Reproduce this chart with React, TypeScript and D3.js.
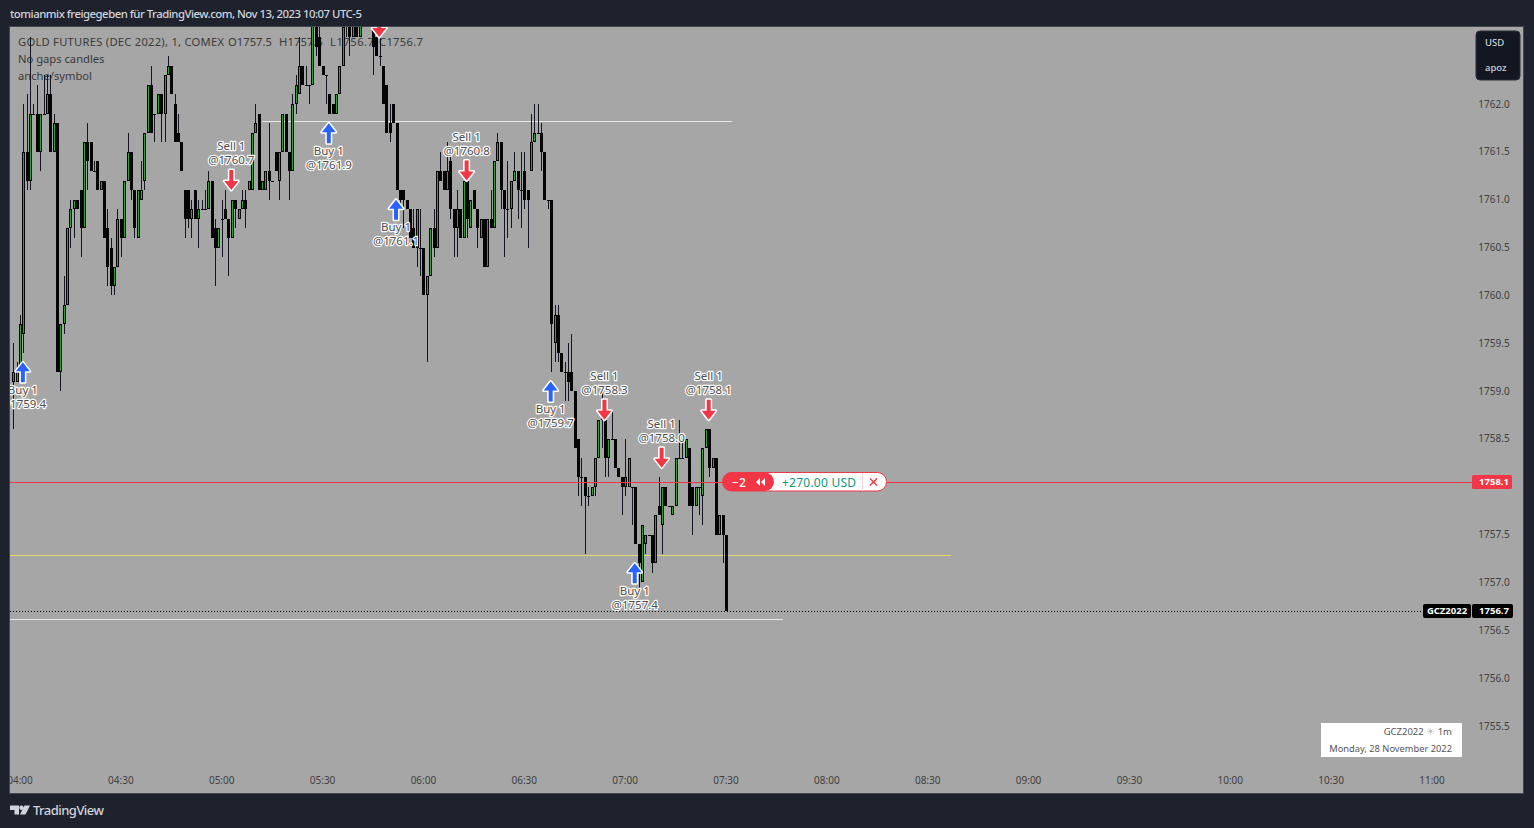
import React from "react";
import * as d3 from "d3";

// prices are written relative to 1700
const BASE = 1700;
const firstMinute = -2; // minutes after 04:00 of the first candle
const opens = [
  59.1,59.1,59.2,59.6,61.5,61.2,61.9,61.9,61.5,61.9,
  61.9,62.1,61.5,61.8,59.2,59.7,59.9,60.7,60.9,61.0,
  61.1,60.7,61.6,61.6,61.3,61.4,61.1,61.2,60.7,60.5,
  60.1,60.3,60.8,60.6,61.2,61.5,61.1,60.6,61.0,61.2,
  61.7,62.2,61.9,61.9,62.1,61.9,62.3,62.4,62.0,61.7,
  61.6,61.1,61.1,60.8,61.1,60.8,60.9,60.9,60.9,61.2,
  60.7,60.5,60.8,60.9,60.8,60.6,61.0,60.8,60.9,61.0,
  61.1,61.1,61.7,61.9,61.1,61.1,61.3,61.2,61.5,61.2,
  61.5,61.9,61.5,61.3,62.0,62.1,62.4,62.2,62.2,62.2,
  63.0,62.7,62.4,62.3,62.1,62.0,61.9,62.1,62.4,62.8,
  62.8,62.7,62.9,62.7,63.0,62.9,63.0,62.8,62.7,62.5,
  62.4,62.2,61.8,62.0,61.8,61.1,61.1,61.0,60.9,60.7,
  60.5,60.5,60.5,60.0,60.2,60.7,60.5,61.3,61.3,61.1,
  61.4,60.9,60.7,60.9,60.6,61.2,60.7,61.1,60.9,60.6,
  60.8,60.3,60.8,60.7,61.4,61.6,61.1,60.9,60.9,61.2,
  61.3,61.1,61.3,61.1,61.3,61.6,61.7,61.7,61.5,61.0,
  61.0,59.5,59.8,59.4,59.2,59.2,59.2,59.0,58.5,58.1,
  58.1,57.9,57.9,58.0,58.3,58.8,58.7,58.3,58.5,58.5,
  58.2,58.1,58.0,58.0,58.0,58.0,57.4,57.0,57.4,57.5,
  57.5,57.2,57.8,57.6,58.0,57.8,57.7,57.8,58.3,58.3,
  58.3,58.4,58.0,57.8,58.0,57.9,58.4,58.6,58.2,58.3,
  57.5,57.7,57.5,
];
const closes = [
  59.2,59.2,59.7,61.5,61.2,61.9,61.9,61.5,61.9,61.9,
  62.1,61.5,61.8,59.2,59.7,59.9,60.7,60.9,61.0,60.9,
  60.7,61.6,61.4,61.3,61.3,61.1,61.2,60.6,60.3,60.1,
  60.3,60.8,60.6,61.2,61.5,61.1,60.7,61.1,61.1,61.7,
  62.2,61.7,61.9,62.1,61.9,62.3,62.4,62.1,61.6,61.6,
  61.3,60.8,60.8,60.9,60.8,60.9,60.9,60.9,61.2,60.6,
  60.5,60.7,60.8,60.8,60.6,61.0,60.9,60.9,61.0,60.9,
  61.2,61.7,61.8,61.1,61.2,61.3,61.2,61.2,61.3,61.5,
  61.9,61.5,61.3,62.0,62.2,62.4,62.2,62.2,62.2,63.0,
  62.6,62.4,62.3,62.3,61.9,61.9,62.1,62.4,62.8,62.9,
  62.7,62.9,62.7,63.0,62.9,63.0,62.9,62.6,62.5,62.5,
  62.0,61.7,61.7,61.8,61.1,61.0,61.0,60.9,60.6,60.5,
  60.9,60.5,60.0,60.2,60.7,60.5,61.3,61.2,61.1,61.3,
  60.9,60.7,60.9,60.6,61.2,60.8,61.0,60.9,60.7,60.8,
  60.3,60.8,60.7,61.4,61.6,61.1,60.9,60.9,61.2,61.3,
  61.1,61.1,61.0,61.0,61.6,61.7,61.7,61.5,61.0,61.0,
  59.7,59.8,59.4,59.2,59.2,59.1,59.0,58.4,58.1,58.1,
  57.9,57.9,58.0,58.3,58.7,58.7,58.3,58.5,58.5,58.2,
  58.1,58.0,58.1,58.3,58.0,57.4,57.2,57.6,57.5,57.5,
  57.2,57.7,57.7,58.0,57.8,57.8,57.8,58.3,58.3,58.3,
  58.5,57.8,57.8,58.0,58.0,58.4,58.6,58.2,58.3,57.5,
  57.7,57.5,56.7,
];
const highs = [
  59.5,59.3,59.8,62.0,62.1,62.7,62.0,62.2,61.9,62.3,
  62.3,62.3,61.9,61.8,59.7,60.2,60.7,61.0,61.0,61.0,
  61.1,61.6,61.8,61.6,61.4,61.4,61.2,61.2,60.9,60.6,
  60.3,60.9,60.8,61.2,61.7,61.5,61.1,61.1,61.4,61.7,
  62.2,62.4,61.9,62.1,62.1,62.3,62.5,62.4,62.1,61.9,
  61.6,61.1,61.1,61.0,61.1,61.0,61.0,61.1,61.3,61.2,
  60.8,60.7,61.0,61.1,60.8,61.0,61.0,60.9,61.1,61.1,
  61.2,61.7,62.0,61.9,61.2,61.3,61.8,61.2,61.5,61.5,
  61.9,61.9,61.5,62.1,62.3,62.7,62.4,62.4,62.2,63.0,
  63.2,62.9,62.4,62.3,62.1,62.0,62.1,62.4,63.0,63.1,
  63.0,63.2,63.0,63.1,63.2,63.2,63.2,63.0,62.7,62.7,
  62.4,62.2,62.0,62.0,61.8,61.1,61.1,61.0,60.9,60.9,
  60.9,60.9,60.5,60.2,60.7,60.9,61.3,61.5,61.3,61.6,
  61.5,60.9,61.1,60.9,61.2,61.2,61.0,61.1,60.9,60.8,
  60.8,60.8,61.1,61.4,61.7,61.6,61.1,61.4,61.2,61.5,
  61.3,61.5,61.5,61.1,61.9,62.0,62.0,61.8,61.5,61.0,
  61.0,59.9,59.9,59.4,59.3,59.5,59.6,59.0,58.5,58.3,
  58.1,58.0,58.0,58.3,58.7,59.0,58.7,58.5,58.8,58.5,
  58.2,58.1,58.5,58.3,58.0,58.0,57.4,57.6,57.5,57.5,
  57.5,57.7,58.1,58.0,58.0,57.8,57.8,58.3,58.7,58.5,
  58.5,58.4,58.0,58.0,58.0,58.4,58.6,58.6,58.3,58.3,
  57.7,57.7,57.5,
];
const lows = [
  58.6,59.1,59.1,59.4,61.1,61.1,61.9,61.5,61.3,61.9,
  61.9,61.5,61.5,59.2,59.0,59.6,59.9,60.5,60.6,60.9,
  60.4,60.7,61.1,61.3,61.3,61.1,61.1,60.6,60.1,60.0,
  60.0,60.3,60.4,60.6,61.2,61.0,60.6,60.6,61.0,61.1,
  61.7,61.7,61.6,61.9,61.6,61.6,62.3,62.1,61.6,61.6,
  61.3,60.6,60.7,60.6,60.8,60.5,60.9,60.9,60.9,60.6,
  60.1,60.5,60.4,60.8,60.2,60.6,60.7,60.8,60.9,60.7,
  61.1,61.1,61.7,61.1,61.1,61.1,61.0,61.2,61.3,61.0,
  61.5,61.5,61.0,61.3,61.9,62.1,62.2,62.2,62.0,62.2,
  62.5,62.4,62.3,62.0,61.9,61.9,61.9,62.1,62.4,62.7,
  62.5,62.7,62.7,62.7,62.9,62.9,62.9,62.3,62.5,62.4,
  62.0,61.7,61.6,61.8,61.1,60.9,60.7,60.9,60.6,60.5,
  60.3,60.2,60.0,59.3,60.2,60.4,60.5,61.2,61.1,61.1,
  60.8,60.4,60.4,60.6,60.6,60.6,60.7,60.9,60.5,60.6,
  60.3,60.3,60.7,60.7,61.4,60.9,60.4,60.6,60.7,61.2,
  60.8,60.7,60.9,60.5,61.3,61.6,61.7,61.3,61.0,60.9,
  59.2,59.3,59.3,59.2,58.9,58.9,59.0,58.4,57.9,57.8,
  57.3,57.8,57.9,57.9,58.3,58.4,58.1,58.1,58.5,58.2,
  58.1,57.7,57.9,58.0,57.6,57.4,56.9,57.0,57.3,57.5,
  57.1,57.2,57.7,57.3,57.8,57.8,57.7,57.8,58.3,58.3,
  58.3,57.8,57.5,57.8,57.7,57.6,58.4,58.1,58.2,57.5,
  57.5,57.2,56.7,
];

// 1758.0 sits behind the red position label in the reference
const priceTicks = [1762.0,1761.5,1761.0,1760.5,1760.0,1759.5,1759.0,1758.5,1757.5,1757.0,1756.5,1756.0,1755.5];
const timeTicks = ["04:00","04:30","05:00","05:30","06:00","06:30","07:00","07:30","08:00","08:30","09:00","09:30","10:00","10:30","11:00"];

const markerSides = ["buy","sell","buy","sell","buy","sell","buy","buy","sell","sell","sell"];
const markerMinutes = [1,63,92,107,112,133,158,183,174,191,205];
const markerTips = [1759.3,1761.1,1761.8,1762.7,1761.0,1761.2,1759.1,1757.2,1758.7,1758.2,1758.7];
const markerPrices = ["1759.4","1760.7","1761.9","","1761.1","1760.8","1759.7","1757.4","1758.3","1758.0","1758.1"];

const levelPrices = [1761.82,1757.29,1756.62];
const levelFrom = [72,-10,-10];
const levelTo = [211.8,276.9,227];
const levelColors = ["#e8e8e8","#e6d768","#e8e8e8"];

const legendTexts = ["O1757.5","H1757.5","L1756.7","C1756.7"];
const legendStarts = [228,279,330,379];

const positionPrice = 1758.05;
const lastPrice = 1756.7;

const sans = "'Noto Sans', sans-serif";
const W = 1534, H = 828;
const plot = { l: 10, t: 27, r: 1523, b: 793 };

const x = d3.scaleLinear().domain([0, 420]).range([20, 1432]);
const y = d3.scaleLinear().domain([1762, 1755.5]).range([104, 726]);

const GREEN = "#27a52f";
const candleIdx = d3.range(closes.length);

function Candles() {
  return (
    <g shapeRendering="crispEdges">
      {candleIdx.map((i) => {
        const m = firstMinute + i;
        const cx = Math.round(x(m));
        const o = opens[i] + BASE, c = closes[i] + BASE;
        const top = Math.round(y(Math.max(o, c)));
        const bot = Math.round(y(Math.min(o, c)));
        const hY = Math.round(y(highs[i] + BASE));
        const lY = Math.round(y(lows[i] + BASE));
        const up = c > o;
        const bh = Math.max(bot - top, 1);
        return (
          <g key={i}>
            <rect x={cx} y={hY} width={1} height={Math.max(lY - hY, 1)} fill="#131722" />
            <rect x={cx - 1} y={top} width={3} height={bh} fill="#050505" />
            {up && bh > 2 && <rect x={cx} y={top + 1} width={1} height={bh - 2} fill={GREEN} />}
          </g>
        );
      })}
    </g>
  );
}

function Marker({ i }: { i: number }) {
  const cx = x(markerMinutes[i]) - 0.5;
  const tip = y(markerTips[i]);
  const buy = markerSides[i] === "buy";
  const dir = buy ? 1 : -1;
  const pts: [number, number][] = [
    [0, 0], [7, 9], [2, 9], [2, 20], [-2, 20], [-2, 9], [-7, 9],
  ];
  const d = (d3.line()(pts.map(([a, b]) => [cx + a, tip + dir * b] as [number, number])) as string) + "Z";
  const color = buy ? "#2962ff" : "#f23645";
  const t1 = buy ? tip + 27.5 : tip - 44;
  const t2 = t1 + 14;
  const label = { fontFamily: sans, fontSize: 11.5, textAnchor: "middle", fill: "#4c4c4c", stroke: "#ffffff", strokeWidth: 2.4, strokeLinejoin: "round", paintOrder: "stroke" } as React.CSSProperties;
  return (
    <g>
      <path d={d} fill={color} stroke="#ffffff" strokeWidth={3} strokeLinejoin="round" paintOrder="stroke" />
      {markerPrices[i] && (
        <g>
          <text x={cx} y={t1} dy="0.35em" style={label}>{buy ? "Buy 1" : "Sell 1"}</text>
          <text x={cx} y={t2} dy="0.35em" style={label}>{"@" + markerPrices[i]}</text>
        </g>
      )}
    </g>
  );
}

function Pill() {
  const py = Math.round(y(positionPrice));
  return (
    <g>
      <rect x={722.5} y={py - 9.5} width={164} height={18.5} rx={9} fill="#ffffff" stroke="#f23645" />
      <path d={`M765 ${py - 9.5} H731.5 a9 9 0 0 0 0 18.5 H765 a9 9.25 0 0 0 0 -18.5Z`} fill="#f23645" />
      <text x={739} y={py + 0.5} dy="0.36em" textAnchor="middle" fill="#fff" fontFamily={sans} fontSize={12} fontWeight={500}>{"\u22122"}</text>
      <path d={`M760 ${py - 4} L756 ${py} L760 ${py + 4}Z M765 ${py - 4} L761 ${py} L765 ${py + 4}Z`} fill="#fff" />
      <text x={819} y={py + 0.5} dy="0.36em" textAnchor="middle" fill="#089981" fontFamily={sans} fontSize={12} textLength={74}>+270.00 USD</text>
      <rect x={862} y={py - 9} width={1} height={18} fill="#f5d5d8" />
      <path d={`M870 ${py - 3.5} L877 ${py + 3.5} M877 ${py - 3.5} L870 ${py + 3.5}`} stroke="#f23645" strokeWidth={1.4} />
    </g>
  );
}

export default function App() {
  const py = Math.round(y(positionPrice));
  const ly = Math.round(y(lastPrice));
  return (
    <svg width={W} height={H} viewBox={`0 0 ${W} ${H}`} style={{ position: "fixed", left: 0, top: 0, display: "block" }}>
      <defs>
        <clipPath id="plotClip">
          <rect x={plot.l} y={plot.t} width={plot.r - plot.l} height={plot.b - plot.t} />
        </clipPath>
      </defs>
      <rect width={W} height={H} fill="#1e222d" />
      <text x={10} y={14} dy="0.35em" fill="#d1d4dc" fontFamily={sans} fontSize={11.4} fontWeight={500} textLength={352}>
        tomianmix freigegeben für TradingView.com, Nov 13, 2023 10:07 UTC-5
      </text>
      <rect x={plot.l - 0.5} y={plot.t - 0.5} width={plot.r - plot.l + 1} height={plot.b - plot.t + 1} fill="#a6a6a6" stroke="#434651" />

      <g clipPath="url(#plotClip)">
        <g fontFamily={sans} fontSize={11.2} fill="#3a3a3a">
          <text x={18} y={42} dy="0.35em" textLength={206}>GOLD FUTURES (DEC 2022), 1, COMEX</text>
          {legendTexts.map((t, i) => (
            <text key={t} x={legendStarts[i]} y={42} dy="0.35em" textLength={44}>{t}</text>
          ))}
          <text x={18} y={59} dy="0.35em">No gaps candles</text>
          <text x={18} y={76} dy="0.35em">anche/symbol</text>
        </g>
        <g shapeRendering="crispEdges">
          {levelPrices.map((p, i) => (
            <rect key={i} x={x(levelFrom[i])} y={Math.round(y(p))} width={x(levelTo[i]) - x(levelFrom[i])} height={1} fill={levelColors[i]} />
          ))}
        </g>
        <Candles />
        <rect x={plot.l} y={py} width={1462} height={1} fill="#f23645" shapeRendering="crispEdges" />
        <line x1={plot.l} x2={1423} y1={ly + 0.5} y2={ly + 0.5} stroke="#000" strokeDasharray="1 2" />
        {markerSides.map((_, i) => <Marker key={i} i={i} />)}
        <Pill />
        <g fontFamily={sans} fontSize={10} fill="#3f3f3f" textAnchor="middle">
          {timeTicks.map((t, i) => (
            <text key={t} x={x(i * 30)} y={780} dy="0.35em">{t}</text>
          ))}
        </g>
        <g fontFamily={sans} fontSize={10} fill="#3f3f3f" textAnchor="middle">
          {priceTicks.map((p) => (
            <text key={p} x={1494} y={y(p)} dy="0.35em">{p.toFixed(1)}</text>
          ))}
        </g>
      </g>

      <g>
        <rect x={1472} y={py - 7} width={40} height={14} rx={1.5} fill="#f23645" />
        <text x={1494} y={py} dy="0.36em" textAnchor="middle" fill="#fff" fontFamily={sans} fontSize={9.5} fontWeight={700}>1758.1</text>
        <rect x={1423} y={ly - 7} width={48} height={14} rx={2} fill="#000" />
        <rect x={1472} y={ly - 7} width={41} height={14} rx={2} fill="#000" />
        <text x={1447} y={ly} dy="0.36em" textAnchor="middle" fill="#fff" fontFamily={sans} fontSize={9.5} fontWeight={700}>GCZ2022</text>
        <text x={1494} y={ly} dy="0.36em" textAnchor="middle" fill="#fff" fontFamily={sans} fontSize={9.5} fontWeight={700}>1756.7</text>
      </g>

      <g>
        <rect x={1476} y={31} width={44} height={49} rx={4} fill="#131722" stroke="#2a2e39" />
        <text x={1485} y={43} dy="0.35em" fill="#d1d4dc" fontFamily={sans} fontSize={9.5} fontWeight={500}>USD</text>
        <text x={1485} y={68} dy="0.35em" fill="#d1d4dc" fontFamily={sans} fontSize={9.5} fontWeight={500}>apoz</text>
      </g>

      <g>
        <rect x={1321} y={723} width={141} height={34} fill="#ffffff" />
        <text x={1452} y={731.5} dy="0.35em" textAnchor="end" fill="#555" fontFamily={sans} fontSize={9.5}>
          GCZ2022 <tspan fill="#bbbbbb">{"\u2600"}</tspan> 1m
        </text>
        <text x={1452} y={748.5} dy="0.35em" textAnchor="end" fill="#555" fontFamily={sans} fontSize={9.3}>Monday, 28 November 2022</text>
      </g>

      <g fill="#d1d4dc">
        <path d="M10 805.5 H19 V814.5 H14.5 V810 H10Z" />
        <circle cx={21.5} cy={807.7} r={2.2} />
        <path d="M24.5 805.5 H30 L25.5 814.5 H20Z" />
        <text x={33} y={810} dy="0.35em" fontFamily={sans} fontSize={13} fontWeight={500} textLength={71}>TradingView</text>
      </g>
    </svg>
  );
}
